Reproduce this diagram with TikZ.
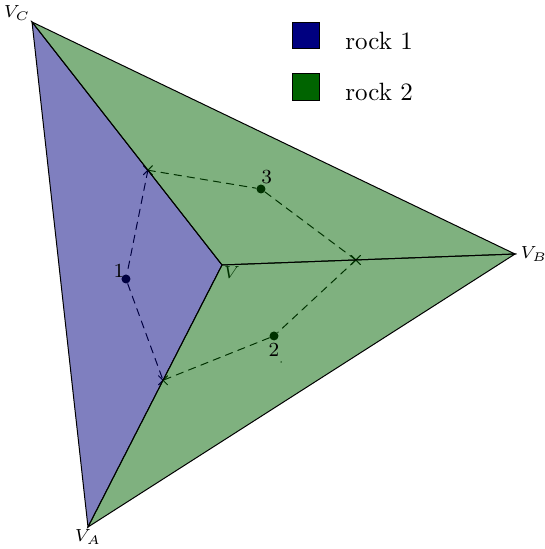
\documentclass[tikz,border=0pt]{standalone}
\usepackage{amsmath}
\usepackage{amssymb}
\usepackage{tikz}
\usetikzlibrary{calc, positioning, shapes.misc}
\usepackage{xcolor}
\definecolor{rockone}{RGB}{0,0,128}
\definecolor{rocktwo}{RGB}{0,100,0}

\begin{document}
\begin{tikzpicture}[line cap=round,
    vertexlabel/.style={font=\scriptsize, inner sep=1pt},
    sitelabel/.style={font=\footnotesize, inner sep=0pt},
    site/.style={circle, fill, inner sep=0pt, minimum size=3.6pt},
    crossing/.style={cross out, draw, inner sep=0pt, minimum size=3.2pt},
    flux/.style={dash pattern=on 3pt off 2.3pt},
    legendbox/.style={draw, inner sep=0pt, minimum size=10.6pt}]
    \useasboundingbox (0,0) rectangle (7.648,7.718);

    % Coordinates
    \coordinate (VC) at (0.450,7.409);
    \coordinate (VB) at (7.240,4.147);
    \coordinate (VA) at (1.237,0.309);
    \coordinate (V)  at (3.121,3.993);

    % ---- Sites and crossings (under the fill) ----
    \node[site] (P1) at (1.771,3.796) {};
    \node[site] (P3) at (3.669,5.061) {};
    \node[site] (P2) at (3.852,2.995) {};
    \node[crossing] (X1) at ($(V)!0.39!(VC)$) {};
    \node[crossing] (X2) at ($(V)!0.457!(VB)$) {};
    \node[crossing] (X3) at ($(V)!0.44!(VA)$) {};
    \draw[flux] (X1.center) -- (P1) -- (X3.center);
    \draw[flux] (X1.center) -- (P3) -- (X2.center);
    \draw[flux] (X2.center) -- (P2) -- (X3.center);
    \fill (3.951,2.629) circle (0.3pt);
    \node[vertexlabel, below right, inner sep=0.5pt] at (V) {$V$};

    % Regions
    \draw[fill=rockone, fill opacity=0.5] (V) -- (VC) -- (VA) -- cycle;
    \draw[fill=rocktwo, fill opacity=0.5] (V) -- (VC) -- (VB) -- cycle;
    \draw[fill=rocktwo, fill opacity=0.5] (V) -- (VB) -- (VA) -- cycle;

    % Labels
    \node[vertexlabel, anchor=south east, inner sep=0.5pt] at (VC) {$V_C$};
    \node[vertexlabel, right, inner sep=2pt] at (VB) {$V_B$};
    \node[vertexlabel, below] at (VA) {$V_A$};
    \node[sitelabel, above left, inner sep=0.5pt] at (P1) {1};
    \node[sitelabel, above right, yshift=2pt] at (P3) {3};
    \node[sitelabel, below, inner sep=2.5pt] at (P2) {2};

    % Legend
    \node[legendbox, fill=rockone] (key1) at (4.302,7.216) {};
    \node[right=6.7pt of key1.south east, anchor=base west] (txt1) {rock 1};
    \node[legendbox, fill=rocktwo] (key2) at (4.302,6.495) {};
    \node[right=6.7pt of key2.south east, anchor=base west] (txt2) {rock 2};
\end{tikzpicture}
\end{document}
